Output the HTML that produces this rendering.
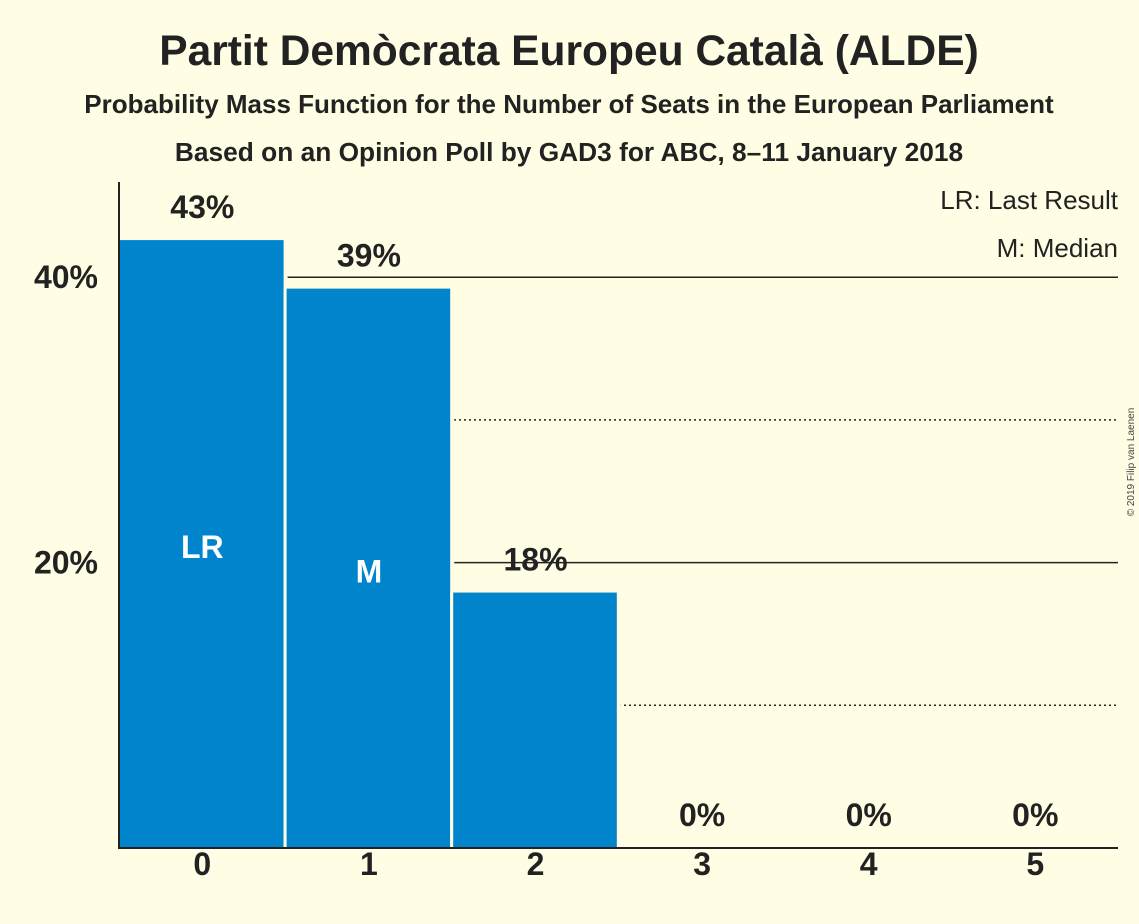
<!DOCTYPE html>
<html><head><meta charset="utf-8"><style>
html,body{margin:0;padding:0;background:#FFFDE4;}
svg{display:block;font-family:"Liberation Sans",sans-serif;}
</style></head><body>
<svg id="chart" width="1139" height="924" viewBox="0 0 1139 924">
<rect width="1139" height="924" fill="#FFFDE4"/>
<text x="569" y="65" text-anchor="middle" font-size="42.5" font-weight="bold" fill="#222">Partit Demòcrata Europeu Català (ALDE)</text>
<text x="569" y="113" text-anchor="middle" font-size="26" font-weight="bold" fill="#222">Probability Mass Function for the Number of Seats in the European Parliament</text>
<text x="569" y="161" text-anchor="middle" font-size="26.3" font-weight="bold" fill="#222">Based on an Opinion Poll by GAD3 for ABC, 8–11 January 2018</text>
<text x="1118" y="209" text-anchor="end" font-size="26" fill="#222">LR: Last Result</text>
<text x="1118" y="257" text-anchor="end" font-size="26" fill="#222">M: Median</text>
<text transform="translate(1134,462) rotate(-90)" text-anchor="middle" font-size="10" fill="#444">© 2019 Filip van Laenen</text>
<g id="grid"></g>
<g id="bars"></g>
<line x1="119" y1="182" x2="119" y2="848" stroke="#222" stroke-width="2"/>
<line x1="118" y1="848" x2="1118" y2="848" stroke="#222" stroke-width="2"/>
<g id="labels"></g>
</svg>
<script>
const categories = ["0","1","2","3","4","5"];
const values = [42.6, 39.2, 17.9, 0, 0, 0];
const valueLabels = ["43%","39%","18%","0%","0%","0%"];
const barMarks = ["LR","M","","","",""];
const solidTicks = [20, 40];
const dottedTicks = [10, 30];
const tickLabels = ["20%","40%"];

const NS="http://www.w3.org/2000/svg";
const x0=119, step=166.6, base=848, perPct=14.27;
const xs=i=>x0+step*i;
const ys=v=>base-v*perPct;
function mk(tag,attrs,parent){const e=document.createElementNS(NS,tag);for(const k in attrs)e.setAttribute(k,attrs[k]);parent.appendChild(e);return e;}
const grid=document.getElementById('grid'),bars=document.getElementById('bars'),labels=document.getElementById('labels');
solidTicks.forEach((t,i)=>{
  const l=mk('line',{x1:119,x2:1118,y1:ys(t),y2:ys(t),stroke:'#222','stroke-width':1.5},grid);
  
  
  const tx=mk('text',{x:98,y:ys(t)+11,'text-anchor':'end','font-size':32,'font-weight':'bold',fill:'#222'},labels);
  tx.textContent=tickLabels[i];
  
  
});
dottedTicks.forEach(t=>{
  const l=mk('line',{x1:119,x2:1118,y1:ys(t),y2:ys(t),stroke:'#222','stroke-width':1.5,'stroke-dasharray':'2,3'},grid);
  
  
});
categories.forEach((c,i)=>{
  const v=values[i];
  if(v>0){
    const g=mk('rect',{x:xs(i)-2,y:ys(v),width:step+4,height:base-ys(v),fill:'#FFFDE4'},bars);
    
    
    const r=mk('rect',{x:xs(i)+1,y:ys(v),width:step-3,height:base-ys(v),fill:'#0084CC'},bars);
    
    
  }
  const t=mk('text',{x:xs(i)+step/2,y:ys(v)-22,'text-anchor':'middle','font-size':32,'font-weight':'bold',fill:'#222'},labels);
  t.textContent=valueLabels[i];
  
  
  if(barMarks[i]){
    const m=mk('text',{x:xs(i)+step/2,y:(ys(v)+base)/2+14,'text-anchor':'middle','font-size':32,'font-weight':'bold',fill:'#fff'},labels);
    m.textContent=barMarks[i];
    
    
  }
  const xl=mk('text',{x:xs(i)+step/2,y:875,'text-anchor':'middle','font-size':32,'font-weight':'bold',fill:'#222'},labels);
  xl.textContent=c;
  
  
});
</script>
</body></html>
